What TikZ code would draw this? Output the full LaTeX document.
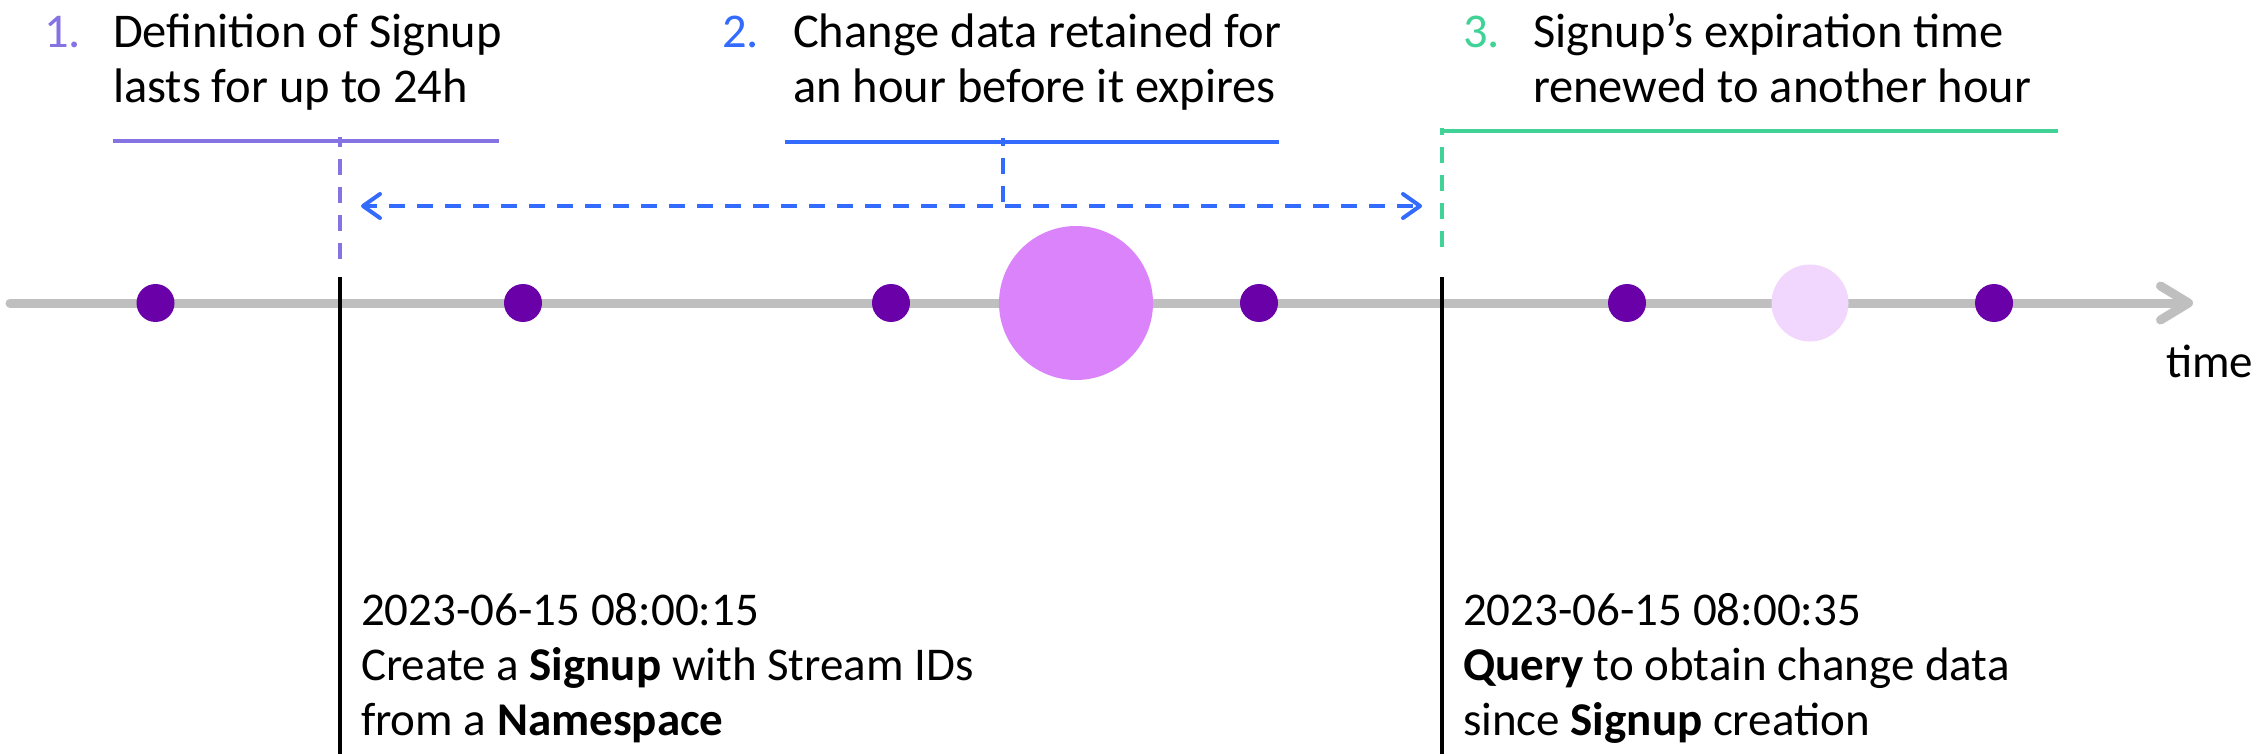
\documentclass[tikz,border=0pt]{standalone}
\usepackage{fontspec}
\setmainfont{Carlito}
\usetikzlibrary{arrows.meta}
\definecolor{cPurple}{RGB}{133,115,228}
\definecolor{cBlue}{RGB}{51,107,255}
\definecolor{cGreen}{RGB}{64,210,150}
\definecolor{cDot}{RGB}{106,0,168}
\definecolor{cBig}{RGB}{218,131,251}
\definecolor{cLight}{RGB}{241,214,253}
\definecolor{cGray}{RGB}{191,191,191}
\begin{document}
\begin{tikzpicture}[x=1pt,y=-1pt,
  txt/.style={font=\fontsize{47}{55}\selectfont, inner sep=0pt, outer sep=0pt, anchor=base west},
  toptxt/.style={txt, font=\fontsize{48.5}{55}\selectfont},
  dotnode/.style={circle, fill=cDot, minimum size=38pt, inner sep=0pt},
  axis/.style={draw=cGray, line width=9pt, line cap=round},
  marker/.style={draw=black, line width=4pt},
  solidbar/.style={line width=4pt},
  dashbar/.style={line width=4pt, dash pattern=on 16pt off 12pt},
]
\useasboundingbox (0,0) rectangle (2258,754);

% timeline
\coordinate (tl0) at (10,303);
\coordinate (tl1) at (2193,303);
\draw[axis, -{Straight Barb[length=28pt,width=34pt,line cap=round,line join=round]}] (tl0) -- (tl1);

% dots
\node[dotnode] (d1) at (155.5,303) {};
\node[dotnode] (d2) at (523,303) {};
\node[dotnode] (d3) at (891,303) {};
\node[dotnode] (d4) at (1259,303) {};
\node[dotnode] (d5) at (1627,303) {};
\node[dotnode] (d6) at (1994,303) {};
\node[circle, fill=cBig, minimum size=154pt, inner sep=0pt] (big) at (1076,303) {};
\node[circle, fill=cLight, minimum size=77pt, inner sep=0pt] (light) at (1810,303) {};

% black event markers
\coordinate (m1top) at (340,277);
\coordinate (m1bot) at (340,756);
\coordinate (m2top) at (1442,277);
\coordinate (m2bot) at (1442,756);
\draw[marker] (m1top) -- (m1bot);
\draw[marker] (m2top) -- (m2bot);

% purple bracket
\coordinate (p1) at (113,141);
\coordinate (p2) at (499,141);
\coordinate (pv1) at (340,259);
\coordinate (pv2) at (340,137);
\draw[solidbar, cPurple] (p1) -- (p2);
\draw[dashbar, cPurple] (pv1) -- (pv2);

% blue bracket and range arrow
\coordinate (bl1) at (785,142);
\coordinate (bl2) at (1279,142);
\coordinate (bt1) at (1003,202);
\coordinate (bt2) at (1003,138);
\coordinate (aL) at (361,206);
\coordinate (aR) at (1422,206);
\draw[solidbar, cBlue] (bl1) -- (bl2);
\draw[dashbar, cBlue] (bt1) -- (bt2);
\draw[dashbar, cBlue, dash phase=4pt, {Straight Barb[length=17pt,width=24pt,line cap=round,line join=round]}-{Straight Barb[length=17pt,width=24pt,line cap=round,line join=round]}] (aL) -- (aR);

% green bracket
\coordinate (g1) at (1440,131);
\coordinate (g2) at (2058,131);
\coordinate (gv1) at (1442,247);
\coordinate (gv2) at (1442,128);
\draw[solidbar, cGreen] (g1) -- (g2);
\draw[dashbar, cGreen] (gv1) -- (gv2);

% top labels
\node[toptxt, text=cPurple] (n1) at (44,48) {1.};
\node[toptxt] (t1) at (113,48) {\begin{tabular}[t]{@{}l@{}}Definition of Signup\\lasts for up to 24h\end{tabular}};
\node[toptxt, text=cBlue] (n2) at (722,48) {2.};
\node[toptxt] (t2) at (793,48) {\begin{tabular}[t]{@{}l@{}}Change data retained for\\an hour before it expires\end{tabular}};
\node[toptxt, text=cGreen] (n3) at (1463,48) {3.};
\node[toptxt] (t3) at (1533,48) {\begin{tabular}[t]{@{}l@{}}Signup’s expiration time\\renewed to another hour\end{tabular}};

% bottom labels
\node[txt] (e1) at (361,625) {\begin{tabular}[t]{@{}l@{}}2023-06-15 08:00:15\\Create a \textbf{Signup} with Stream IDs\\from a \textbf{Namespace}\end{tabular}};
\node[txt] (e2) at (1463,625) {\begin{tabular}[t]{@{}l@{}}2023-06-15 08:00:35\\\textbf{Query} to obtain change data\\since \textbf{Signup} creation\end{tabular}};

\node[txt] (time) at (2166,377) {time};
\end{tikzpicture}
\end{document}
